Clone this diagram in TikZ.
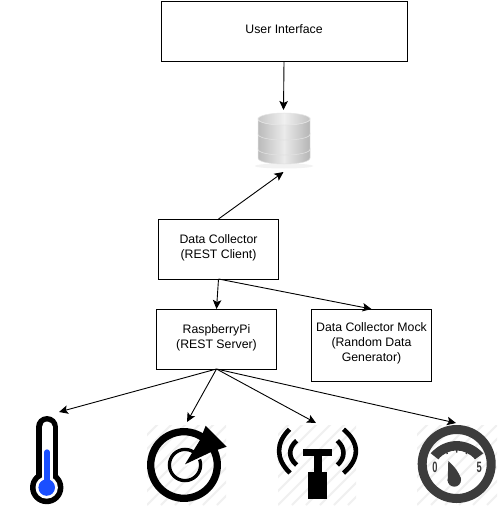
\documentclass[tikz,border=0pt]{standalone}
\usepackage{fontspec}
\setmainfont{Liberation Sans}
\usetikzlibrary{arrows.meta}
\definecolor{gaugegray}{HTML}{3C3C3C}
\definecolor{hatchgray}{HTML}{F0F0F0}
\definecolor{thermoblue}{HTML}{1A4FFF}
\newcommand\lifted[1]{\raisebox{1.1pt}[\height][\depth]{\begin{tabular}{@{}c@{}}#1\end{tabular}}}
\newcommand\hatchzone[4]{%
  \begin{scope}
    \clip (#1,#2) rectangle (#3,#4);
    \foreach \i in {0,...,12}
      \draw[hatchline] ({#1+14*\i-84},#4) -- ({#1+14*\i},#4-84);
  \end{scope}}
\newcommand\dbsegment[2]{%
  \path[dbbody] (258,#1) -- (258,#2) .. controls (258,#2+8) and (310,#2+8) .. (310,#2)
    -- (310,#1) .. controls (310,#1+8) and (258,#1+8) .. (258,#1) -- cycle;}
\tikzset{
  box/.style={draw=black,line width=1pt,outer sep=0pt,inner sep=0pt,align=center,
    font=\fontsize{12.3}{15}\selectfont},
  ghost/.style={inner sep=0pt,outer sep=0pt},
  link/.style={line width=0.9pt,-{Stealth[length=9pt,width=8.5pt,inset=2pt]}},
  hatchline/.style={draw=hatchgray,line width=2pt},
  dbbody/.style={left color=black!27,right color=black!29,middle color=black!8,draw=black!12,line width=.5pt},
  digit/.style={text=gaugegray,inner sep=0pt,font=\bfseries\fontsize{15}{15}\selectfont,xscale=.62},
}
\begin{document}
\begin{tikzpicture}[x=1pt,y=-1pt]
\useasboundingbox (0,0) rectangle (498,508);
\fill[white] (0,0) rectangle (498,508);

% boxes
\node[box,minimum width=246pt,minimum height=60pt] (ui) at (284,31.5) {\lifted{User Interface}};
\node[box,minimum width=120pt,minimum height=60pt] (dc) at (218.5,249) {\lifted{Data Collector\\(REST Client)}};
\node[box,minimum width=120pt,minimum height=60pt] (rp) at (216.5,339) {\lifted{RaspberryPi\\(REST Server)}};
\node[box,minimum width=120pt,minimum height=72pt] (mock) at (371.5,345) {\lifted{Data Collector Mock\\(Random Data\\Generator)}};

% database
\node[ghost,minimum width=52pt,minimum height=62pt] (db) at (283.5,141) {};
\fill[black!5] (284,166) ellipse [x radius=29, y radius=2.5];
\dbsegment{149}{158}
\dbsegment{134}{149}
\dbsegment{119}{134}
\path[left color=black!22,right color=black!24,middle color=black!6,draw=black!10,line width=.5pt]
  (284,119) ellipse [x radius=26, y radius=6];

% icon frames
\node[ghost,minimum width=24pt,minimum height=96pt] (thermo) at (47,460) {};
\node[ghost,minimum width=80pt,minimum height=80pt] (radar) at (187,462) {};
\node[ghost,minimum width=80pt,minimum height=80pt] (mast) at (316,463) {};
\node[ghost,minimum width=80pt,minimum height=80pt] (gauge) at (456,463) {};

% thermometer
\draw[line width=22pt,line cap=round] (47,427) -- (47,488);
\fill (46.7,487.5) circle [radius=16.7];
\draw[white,line width=11pt,line cap=round] (47,427) -- (47,488);
\fill[white] (46.7,487.5) circle [radius=11.2];
\draw[thermoblue,line width=5.3pt,line cap=round] (47,452) -- (47,487);
\fill[thermoblue] (46.7,487.5) circle [radius=8.3];

% radar icon
\hatchzone{147}{425}{226}{505}
\draw[line width=7.3pt] (184,465) circle [radius=33.3];
\draw[line width=3.3pt] (185,465) circle [radius=15.6];
\fill[white] (184,467) -- (199,446) -- (208,455) -- cycle;
\fill (185,464.3) -- (200,440) -- (205.7,425.7) -- (226.7,446.7) -- (211.7,451.7) -- cycle;

% antenna icon
\hatchzone{278}{425}{356}{505}
\draw[line width=4.6pt] (289.5,429.3) .. controls (275.5,443) and (275.5,459) .. (290,473);
\draw[line width=4.6pt] (296.7,440.7) .. controls (288,448) and (288,458) .. (296.7,465);
\draw[line width=4.6pt] (343.5,429.3) .. controls (360,443) and (360,459) .. (343.5,473);
\draw[line width=4.6pt] (337.3,440.7) .. controls (345.5,448) and (345.5,458) .. (337.3,465);
\fill (303.3,449.3) rectangle (331.7,455.7);
\fill (314.3,455) rectangle (321.7,473);
\fill (308.3,471.7) rectangle (326.7,499);

% gauge icon
\hatchzone{417}{425}{497}{505}
\draw[gaugegray,line width=9pt] (456.7,464) circle [radius=34.5];
\fill[gaugegray] (430.7,453.3) .. controls (445,437) and (468,437) .. (483.3,453.3)
  -- (475,459.3) .. controls (465,447.5) and (448,447.5) .. (438.3,459.3) -- cycle;
\draw[gaugegray,line width=1.4pt] (446.5,450) -- (447.2,454) (456.7,448) -- (456.7,452.5) (467,450) -- (466.2,454);
\fill[gaugegray] (454.3,480) circle [radius=6.7];
\fill[gaugegray] (448.3,461) -- (447.7,481) -- (461,479) .. controls (459,472) and (454,466) .. (448.3,461) -- cycle;
\node[digit] (zero) at (435,467) {0};
\node[digit] (five) at (479.3,467) {5};

% connectors
\draw[link] (ui.south) -- (db.north);
\draw[link] (dc.north) -- (db.south);
\draw[link] (dc.south) -- (rp.north);
\draw[link] (dc.south) -- (mock.north);
\draw[link] (rp.south) -- (thermo.north east);
\draw[link] (rp.south) -- (radar.north);
\draw[link] (rp.south) -- (mast.north);
\draw[link] (rp.south) -- (gauge.north);
\end{tikzpicture}
\end{document}
